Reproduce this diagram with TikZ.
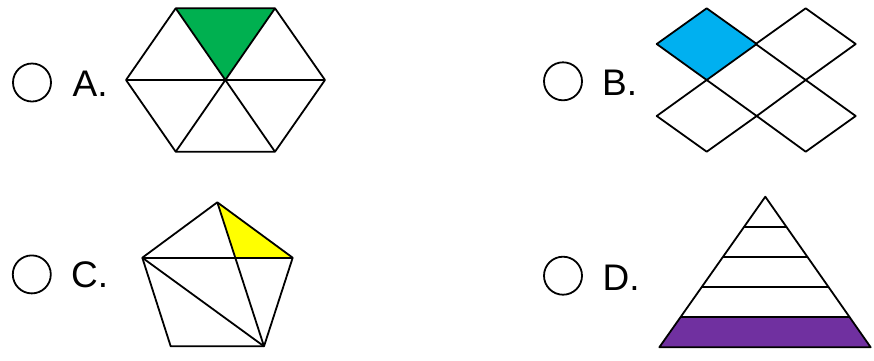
\documentclass[tikz,border=0pt]{standalone}
\usepackage{fontspec}
\setmainfont{Liberation Sans}
\usetikzlibrary{calc}
\definecolor{fillgreen}{HTML}{00B050}
\definecolor{fillblue}{HTML}{00B0F0}
\definecolor{fillyellow}{HTML}{FFFF00}
\definecolor{fillpurple}{HTML}{7030A0}
\begin{document}
\begin{tikzpicture}[x=1pt,y=-1pt,line join=round,
  edgeline/.style={draw=black,line width=1.8pt},
  radio/.style={circle,draw=black,line width=1.8pt,minimum size=38pt,inner sep=0pt},
  lab/.style={anchor=base west,inner sep=0pt,font=\fontsize{37}{40}\selectfont}]
\useasboundingbox (0,0) rectangle (874,360);
% option circles and labels
\node[radio] (ca) at (32,82.5) {};
\node[lab] (la) at (72.5,96) {A.};
\node[radio] (cb) at (563,81.3) {};
\node[lab] (lb) at (602,95.8) {B.};
\node[radio] (cc) at (31.8,274.4) {};
\node[lab] (lc) at (71,287.5) {C.};
\node[radio] (cd) at (563,275.7) {};
\node[lab] (ld) at (602.5,290.5) {D.};
% A: hexagon
\coordinate (hL) at (126,80);
\coordinate (hTL) at (175.7,8.3);
\coordinate (hTR) at (275,8.3);
\coordinate (hR) at (325,80);
\coordinate (hBR) at (275,151.7);
\coordinate (hBL) at (175.7,151.7);
\coordinate (hO) at (225.4,80);
\fill[fillgreen] (hTL) -- (hTR) -- (hO) -- cycle;
\draw[edgeline] (hL) -- (hTL) -- (hTR) -- (hR) -- (hBR) -- (hBL) -- cycle;
\draw[edgeline] (hTL) -- (hBR);
\draw[edgeline] (hTR) -- (hBL);
\draw[edgeline] (hL) -- (hR);
% B: rhombi
\fill[fillblue] (706.7,8.3) -- (756.7,44) -- (706.7,80) -- (656.7,44) -- cycle;
\draw[edgeline] (706.7,8.3) -- (756.7,44) -- (706.7,80) -- (656.7,44) -- cycle;
\draw[edgeline] (805.7,8.3) -- (855.7,44) -- (805.7,80) -- (755.7,44) -- cycle;
\draw[edgeline] (706.7,80) -- (756.7,116) -- (706.7,151.7) -- (656.7,116) -- cycle;
\draw[edgeline] (805.7,80) -- (855.7,116) -- (805.7,151.7) -- (756.7,116) -- cycle;
% C: pentagon
\coordinate (pT) at (217.3,202.3);
\coordinate (pR) at (292.7,257.7);
\coordinate (pBR) at (264,346.3);
\coordinate (pBL) at (170.7,346.3);
\coordinate (pL) at (142.3,257.7);
\coordinate (pX) at ($(pT)!0.3847!(pBR)$);
\fill[fillyellow] (pT) -- (pR) -- (pX) -- cycle;
\draw[edgeline] (pT) -- (pR) -- (pBR) -- (pBL) -- (pL) -- cycle;
\draw[edgeline] (pL) -- (pR);
\draw[edgeline] (pL) -- (pBR);
\draw[edgeline] (pT) -- (pBR);
% D: triangle
\coordinate (tA) at (765.3,196.7);
\coordinate (tBL) at (659.3,347.3);
\coordinate (tBR) at (870.7,347.3);
\fill[fillpurple] ($(tA)!0.8!(tBL)$) -- (tBL) -- (tBR) -- ($(tA)!0.8!(tBR)$) -- cycle;
\draw[edgeline] (tA) -- (tBL) -- (tBR) -- cycle;
\foreach \t in {0.2,0.4,0.6,0.8}
  \draw[edgeline] ($(tA)!\t!(tBL)$) -- ($(tA)!\t!(tBR)$);
\end{tikzpicture}
\end{document}
